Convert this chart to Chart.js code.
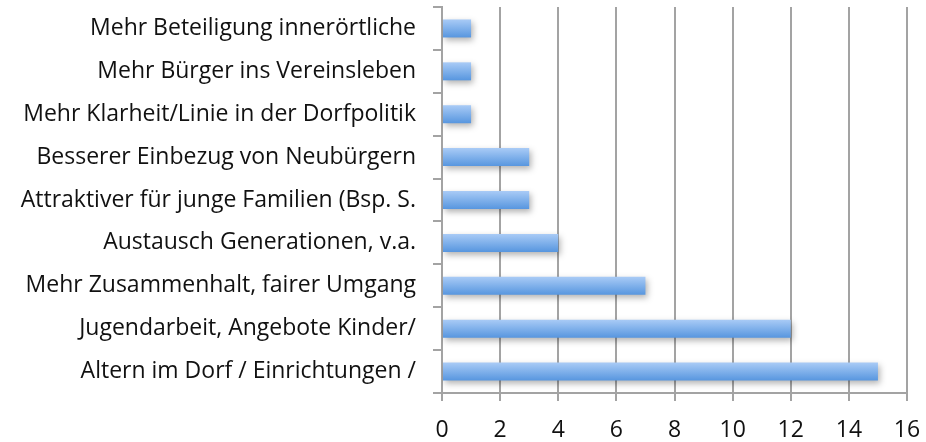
<!DOCTYPE html>
<html>
<head>
<meta charset="utf-8">
<script src="https://cdn.jsdelivr.net/npm/chart.js@4"></script>
<style>
  html, body { margin: 0; padding: 0; background: #fff; }
  #wrap { width: 926px; height: 442px; }
</style>
</head>
<body>
<div id="wrap"><canvas id="barChart"></canvas></div>
<script>
const categories = [
  "Mehr Beteiligung innerörtliche",
  "Mehr Bürger ins Vereinsleben",
  "Mehr Klarheit/Linie in der Dorfpolitik",
  "Besserer Einbezug von Neubürgern",
  "Attraktiver für junge Familien (Bsp. S.",
  "Austausch Generationen, v.a.",
  "Mehr Zusammenhalt, fairer Umgang",
  "Jugendarbeit, Angebote Kinder/",
  "Altern im Dorf / Einrichtungen /",
];
const counts = [1, 1, 1, 3, 3, 4, 7, 12, 15];
const xTicks = [0, 2, 4, 6, 8, 10, 12, 14, 16];

const gridColor = "#a3a3a3";
const font = "'Open Sans', 'DejaVu Sans', sans-serif";

// vertical gradient for each bar, light on top, darker at the bottom
function barGradient(ctx) {
  const chart = ctx.chart;
  const y = chart.scales.y;
  if (!y || !chart.chartArea) return "#7fb0ec";
  const mid = y.getPixelForValue(ctx.dataIndex);
  const g = chart.ctx.createLinearGradient(0, mid - 9, 0, mid + 9);
  g.addColorStop(0, "#a9cbf6");
  g.addColorStop(1, "#5796df");
  return g;
}

const barShadow = {
  id: "barShadow",
  beforeDatasetsDraw(chart) {
    const c = chart.ctx;
    c.save();
    c.shadowColor = "rgba(0,0,0,0.3)";
    c.shadowBlur = 6;
    c.shadowOffsetX = 2;
    c.shadowOffsetY = 3;
  },
  afterDatasetsDraw(chart) {
    chart.ctx.restore();
  },
};

const barChart = document.querySelector("#barChart");
const graph = new Chart(barChart, {
  type: "bar",
  data: {
    labels: categories,
    datasets: [
      {
        data: counts,
        backgroundColor: barGradient,
        borderWidth: 0,
        barPercentage: 0.42,
        categoryPercentage: 1,
      },
    ],
  },
  options: {
    indexAxis: "y",
    responsive: true,
    maintainAspectRatio: false,
    animation: false,
    layout: { padding: { top: 7, right: 19, left: 0, bottom: 0 } },
    plugins: {
      legend: { display: false },
      tooltip: { enabled: false },
    },
    scales: {
      x: {
        min: 0,
        max: 16,
        afterBuildTicks: (scale) => {
          scale.ticks = xTicks.map((v) => ({ value: v }));
        },
        afterFit: (scale) => {
          scale.height = 49;
          scale.paddingLeft = 0;
          scale.paddingRight = 0;
        },
        grid: {
          color: gridColor,
          lineWidth: 2,
          tickLength: 8,
          drawTicks: true,
        },
        border: { color: gridColor, width: 2 },
        ticks: {
          color: "#111",
          padding: 16,
          font: { family: font, size: 23 },
        },
      },
      y: {
        afterFit: (scale) => {
          scale.width = 442;
          scale.paddingTop = 0;
          scale.paddingBottom = 0;
        },
        grid: {
          offset: true,
          drawOnChartArea: false,
          color: gridColor,
          lineWidth: 2,
          tickLength: 9,
        },
        border: { color: gridColor, width: 2 },
        ticks: {
          color: "#111",
          padding: 17,
          font: { family: font, size: 23 },
        },
      },
    },
  },
  plugins: [barShadow],
});
</script>
</body>
</html>
